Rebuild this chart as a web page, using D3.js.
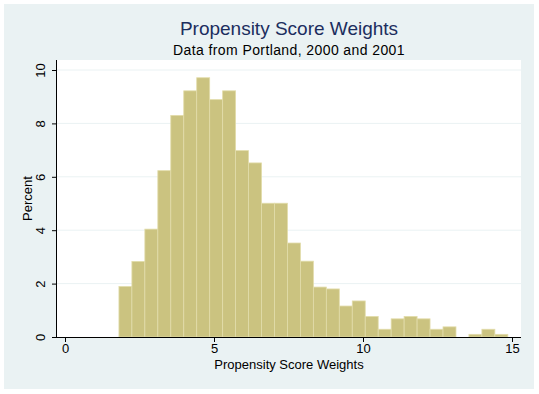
<!DOCTYPE html>
<html>
<head>
<meta charset="utf-8">
<script src="https://cdn.jsdelivr.net/npm/d3@7"></script>
<style>
  body { margin: 0; background: #fff; }
  svg { display: block; font-family: "Liberation Sans", Arial, sans-serif; }
</style>
</head>
<body>
<svg id="chart" width="539" height="394"></svg>
<script>
// histogram data (percent per bin)
var binStart = 1.81;
var binWidth = 0.435;
var percents = [1.89, 2.83, 4.04, 6.23, 8.30, 9.22, 9.71, 8.89, 9.22, 6.98,
                6.52, 5.01, 5.01, 3.52, 2.84, 1.87, 1.80, 1.16, 1.35, 0.77,
                0.29, 0.68, 0.77, 0.68, 0.29, 0.38, 0.00, 0.10, 0.29, 0.10];
var xTicks = [0, 5, 10, 15];
var yTicks = [0, 2, 4, 6, 8, 10];
var title = "Propensity Score Weights";
var subtitle = "Data from Portland, 2000 and 2001";
var xTitle = "Propensity Score Weights";
var yTitle = "Percent";

var svg = d3.select("#chart");

// outer graph region
svg.append("rect")
    .attr("x", 4).attr("y", 4)
    .attr("width", 530).attr("height", 385)
    .attr("fill", "#eaf2f3");

var plotLeft = 57, plotRight = 521, plotTop = 60, plotBottom = 337;

svg.append("rect")
    .attr("x", plotLeft).attr("y", plotTop)
    .attr("width", plotRight - plotLeft).attr("height", plotBottom - plotTop)
    .attr("fill", "#ffffff");

var x = d3.scaleLinear().domain([0, 15]).range([65, 512]);
var y = d3.scaleLinear().domain([0, 10]).range([337, 70]);

// gridlines
svg.append("g")
    .selectAll("line")
    .data(yTicks.filter(function(d) { return d > 0; }))
    .enter().append("line")
    .attr("x1", plotLeft).attr("x2", plotRight)
    .attr("y1", function(d) { return y(d); })
    .attr("y2", function(d) { return y(d); })
    .attr("stroke", "#eaf2f3")
    .attr("stroke-width", 1);

// bars (empty bins drawn with no outline)
svg.append("g")
    .selectAll("rect")
    .data(percents)
    .enter().append("rect")
    .attr("x", function(d, i) { return x(binStart + i * binWidth); })
    .attr("y", function(d) { return y(d); })
    .attr("width", function(d, i) { return x(binStart + (i + 1) * binWidth) - x(binStart + i * binWidth); })
    .attr("height", function(d) { return y(0) - y(d); })
    .attr("fill", "#cbc380")
    .attr("stroke", function(d) { return d > 0 ? "#e2dcaa" : "none"; })
    .attr("stroke-width", 0.8);

// axes
var xAxis = d3.axisBottom(x).tickValues(xTicks).tickSize(5).tickPadding(2);
var gx = svg.append("g")
    .attr("transform", "translate(0," + plotBottom + ")")
    .call(xAxis);
gx.select(".domain").attr("d", "M" + plotLeft + ",0.5H" + plotRight);
gx.selectAll("text").attr("font-size", 13).attr("fill", "#000")
    .attr("font-family", "Liberation Sans, Arial, sans-serif");
gx.selectAll("line, path").attr("stroke", "#000");

var yAxis = d3.axisLeft(y).tickValues(yTicks).tickSize(5).tickPadding(4);
var gy = svg.append("g")
    .attr("transform", "translate(" + plotLeft + ",0)")
    .call(yAxis);
gy.select(".domain").attr("d", "M-0.5," + plotBottom + "V" + plotTop);
gy.selectAll("line, path").attr("stroke", "#000");
gy.selectAll(".tick text")
    .attr("font-size", 13).attr("fill", "#000")
    .attr("font-family", "Liberation Sans, Arial, sans-serif")
    .attr("x", null).attr("dy", null)
    .attr("text-anchor", "middle")
    .attr("transform", "translate(-12,0) rotate(-90)");

// titles
var cx = (plotLeft + plotRight) / 2;
svg.append("text")
    .attr("x", cx).attr("y", 35)
    .attr("text-anchor", "middle")
    .attr("font-size", 19)
    .attr("fill", "#1c2e5e")
    .text(title);
svg.append("text")
    .attr("x", cx).attr("y", 55)
    .attr("text-anchor", "middle")
    .attr("font-size", 14)
    .attr("letter-spacing", 0.4)
    .attr("fill", "#000")
    .text(subtitle);
svg.append("text")
    .attr("x", cx).attr("y", 369)
    .attr("text-anchor", "middle")
    .attr("font-size", 13)
    .attr("fill", "#000")
    .text(xTitle);
svg.append("text")
    .attr("transform", "translate(32," + ((plotTop + plotBottom) / 2) + ") rotate(-90)")
    .attr("text-anchor", "middle")
    .attr("font-size", 13)
    .attr("fill", "#000")
    .text(yTitle);
</script>
</body>
</html>
